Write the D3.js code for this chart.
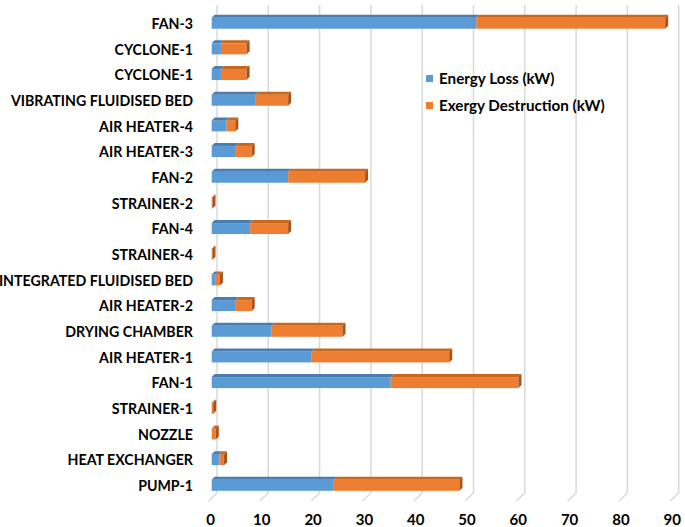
<!DOCTYPE html>
<html><head><meta charset="utf-8">
<script src="https://cdn.jsdelivr.net/npm/d3@7"></script>
<style>body{margin:0;background:#fff}svg{display:block}text{font-family:Lato,"Open Sans",sans-serif;font-weight:bold;fill:#000}</style>
</head><body>
<script>
const categories = ["PUMP-1","HEAT EXCHANGER","NOZZLE","STRAINER-1","FAN-1","AIR HEATER-1","DRYING CHAMBER","AIR HEATER-2","INTEGRATED FLUIDISED BED","STRAINER-4","FAN-4","STRAINER-2","FAN-2","AIR HEATER-3","AIR HEATER-4","VIBRATING FLUIDISED BED","CYCLONE-1","CYCLONE-1","FAN-3"];
const energyLoss = [23.8,1.5,0,0,34.9,19.5,11.7,4.7,0.8,0,7.5,0,14.9,4.7,2.9,8.6,1.8,1.8,51.6];
const exergyDestruction = [24.5,0.9,0.8,0.3,24.9,26.8,13.8,3.1,0.8,0.15,7.4,0.15,15.0,3.1,1.7,6.3,5.0,5.0,36.8];
const seriesNames = ["Energy Loss (kW)","Exergy Destruction (kW)"];
const xTicks = [0,10,20,30,40,50,60,70,80,90];

const W=685,H=527;
const svg=d3.select("body").append("svg").attr("width",W).attr("height",H);
svg.append("rect").attr("width",W).attr("height",H).attr("fill","#fff");

const x=d3.scaleLinear().domain([0,90]).range([211.7,211.7+9*51.3]);
const idx=categories.map((d,i)=>i);
const y=d3.scalePoint().domain(idx).range([485.3,23.2]);
const barH=11, dX=3, dY=-3;
const gOff=5.3, gridTop=5, gridBot=493, floorDx=-8.5, floorDy=8;

// gridlines on back wall + floor
const grid=svg.append("g");
xTicks.forEach(t=>{
  const gx=x(t)+gOff;
  grid.append("line").attr("x1",gx).attr("x2",gx).attr("y1",gridTop).attr("y2",gridBot)
    .attr("stroke","#d9d9d9").attr("stroke-width",1.5);
  grid.append("line").attr("x1",gx).attr("x2",gx+floorDx).attr("y1",gridBot).attr("y2",gridBot+floorDy)
    .attr("stroke","#d9d9d9").attr("stroke-width",1.5);
});

// axis tick labels
const xAxis=d3.axisBottom(x).tickValues(xTicks).tickSize(0).tickPadding(0);
const ax=svg.append("g").attr("transform","translate(-1.7,514)").call(xAxis);
ax.select(".domain").remove();
ax.selectAll("text").attr("font-size",15).attr("font-family","Lato, sans-serif").attr("font-weight","bold").attr("fill","#000");

// category labels
const yAxis=d3.axisLeft(y).tickFormat(i=>categories[i]).tickSize(0).tickPadding(0);
const ay=svg.append("g").attr("transform","translate(193,0.8)").call(yAxis);
ay.select(".domain").remove();
ay.selectAll("text").attr("font-size",14.2).attr("font-family","Lato, sans-serif").attr("font-weight","bold").attr("fill","#000");

const cols=[{front:"#5b9bd5",top:"#4a7db0",side:"#3f6e9b"},{front:"#ed7d31",top:"#c8681f",side:"#a6541b"}];
const bars=svg.append("g");
idx.forEach(i=>{
  const segs=[[0,energyLoss[i]],[energyLoss[i],energyLoss[i]+exergyDestruction[i]]];
  const yc=y(i), y0=yc-barH/2;
  segs.forEach((s,k)=>{
    if(s[1]-s[0]<=0) return;
    const x0=x(s[0]), x1=x(s[1]);
    bars.append("rect").attr("x",x0).attr("y",y0).attr("width",x1-x0).attr("height",barH).attr("fill",cols[k].front);
    bars.append("path").attr("d",`M${x0},${y0}L${x0+dX},${y0+dY}L${x1+dX},${y0+dY}L${x1},${y0}Z`).attr("fill",cols[k].top);
  });
  const tot=energyLoss[i]+exergyDestruction[i];
  const last=exergyDestruction[i]>0?1:0;
  const xe=x(tot);
  bars.append("path").attr("d",`M${xe},${y0}L${xe+dX},${y0+dY}L${xe+dX},${y0+barH+dY}L${xe},${y0+barH}Z`).attr("fill",cols[last].side);
});

// legend
const lg=svg.append("g");
seriesNames.forEach((n,k)=>{
  const ly=78.5+k*27;
  lg.append("rect").attr("x",426).attr("y",ly-3.5).attr("width",7).attr("height",7).attr("fill",cols[k].front);
  lg.append("text").attr("x",439).attr("y",ly).attr("dy","0.35em").attr("font-size",15.2).text(n);
});
</script>
</body></html>
